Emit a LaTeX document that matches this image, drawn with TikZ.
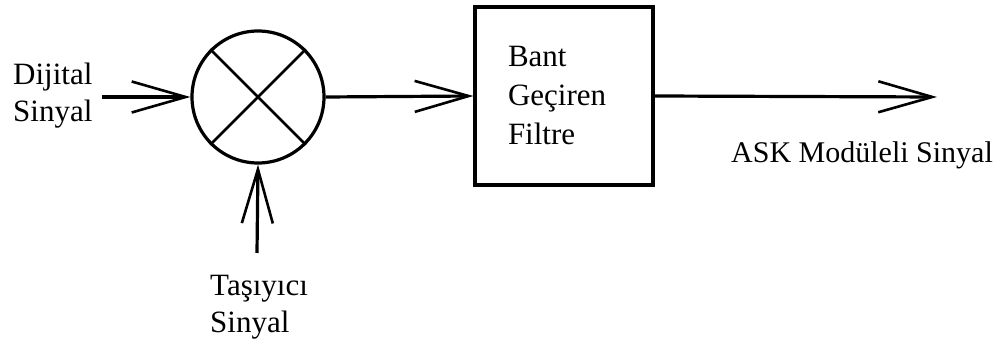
\documentclass[tikz,border=0pt]{standalone}
\usepackage{fontspec}
\setmainfont{Liberation Serif}
\usetikzlibrary{arrows.meta}
\begin{document}
\begin{tikzpicture}[x=1pt,y=-1pt,
  wire/.style={line width=3.2pt,-{Straight Barb[length=54pt,width=31pt,line width=2.6pt]}},
  lbl/.style={inner sep=0pt,align=left,font=\fontsize{31pt}{37pt}\selectfont},
  blk/.style={draw,line width=3.2pt,inner sep=0pt}]
\useasboundingbox (0,0) rectangle (997,344);
\node[blk,circle,minimum size=132pt] (mix) at (258,97) {};
\draw[line width=2.8pt] (mix.45) -- (mix.225) (mix.135) -- (mix.315);
\node[blk,rectangle,minimum width=178pt,minimum height=178pt,text width=112pt,align=left,
  font=\fontsize{31pt}{39pt}\selectfont] (bpf) at (564,96) {Bant\\Geçiren\\Filtre};
\coordinate (din) at (102,97);
\coordinate (car) at (257,253);
\coordinate (out) at (937,97);
\draw[wire] (din) -- (mix.west);
\draw[wire] (car) -- (mix.south);
\draw[wire] (mix.east) -- (bpf.west);
\draw[wire] (bpf.east) -- (out);
\node[lbl,anchor=north west] (tdin) at (13,63) {Dijital\\Sinyal};
\node[lbl,anchor=north west] (tcar) at (210,275) {Taşıyıcı\\Sinyal};
\node[lbl,anchor=north west,font=\fontsize{30pt}{34pt}\selectfont] (tout) at (731,141) {ASK Modüleli Sinyal};
\end{tikzpicture}
\end{document}
